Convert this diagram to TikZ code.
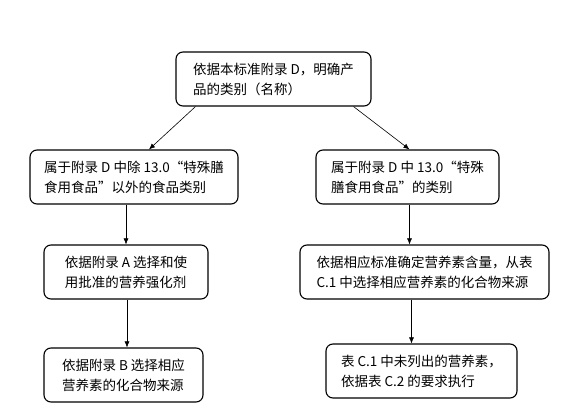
\documentclass[tikz,border=0pt]{standalone}
\usepackage{fontspec}
\setmainfont{Noto Sans CJK SC}
\usetikzlibrary{positioning, arrows.meta}

\tikzset{
    stepbox/.style={draw, rectangle, rounded corners=7pt, line width=1.1pt, align=left,
        inner xsep=12pt, minimum height=54pt, font=\fontsize{13.5}{20}\selectfont},
}

\begin{document}
\begin{tikzpicture}[x=1pt, y=-1pt, >={Latex[length=6pt,width=5pt]}, line width=0.6pt]
    \useasboundingbox (0,0) rectangle (579,414);

    \node [stepbox, minimum width=195pt] (cls) at (273.5,79) {依据本标准附录 D，明确产\\品的类别（名称）};

    % left branch
    \node [stepbox, minimum width=208pt] (other) at (134,177) {属于附录 D 中除 13.0“特殊膳\\食用食品”以外的食品类别};
    \node [stepbox, minimum width=164pt] (fortif) at (126,272) {依据附录 A 选择和使\\用批准的营养强化剂};
    \node [stepbox, minimum width=159pt] (source) at (123.5,375) {依据附录 B 选择相应\\营养素的化合物来源};

    % right branch
    \node [stepbox, minimum width=183pt] (special) at (407.5,177) {属于附录 D 中 13.0“特殊\\膳食用食品”的类别};
    \node [stepbox, minimum width=249pt] (content) at (424.5,272) {依据相应标准确定营养素含量，从表\\C.1 中选择相应营养素的化合物来源};
    \node [stepbox, minimum width=191pt] (rest) at (421.5,371) {表 C.1 中未列出的营养素，\\依据表 C.2 的要求执行};

    \draw [->] ([xshift=-78pt]cls.south) -- ([xshift=15pt]other.north);
    \draw [->] ([xshift=80pt]cls.south) -- ([xshift=2pt]special.north);
    \draw [->] (other.south -| fortif.north) -- (fortif.north);
    \draw [->] ([xshift=1pt]fortif.south) -- ([xshift=1pt]fortif.south |- source.north);
    \draw [->] ([xshift=2pt]special.south) -- ([xshift=2pt]special.south |- content.north);
    \draw [->] ([xshift=-13pt]content.south) -- ([xshift=-10pt]rest.north);
\end{tikzpicture}
\end{document}
